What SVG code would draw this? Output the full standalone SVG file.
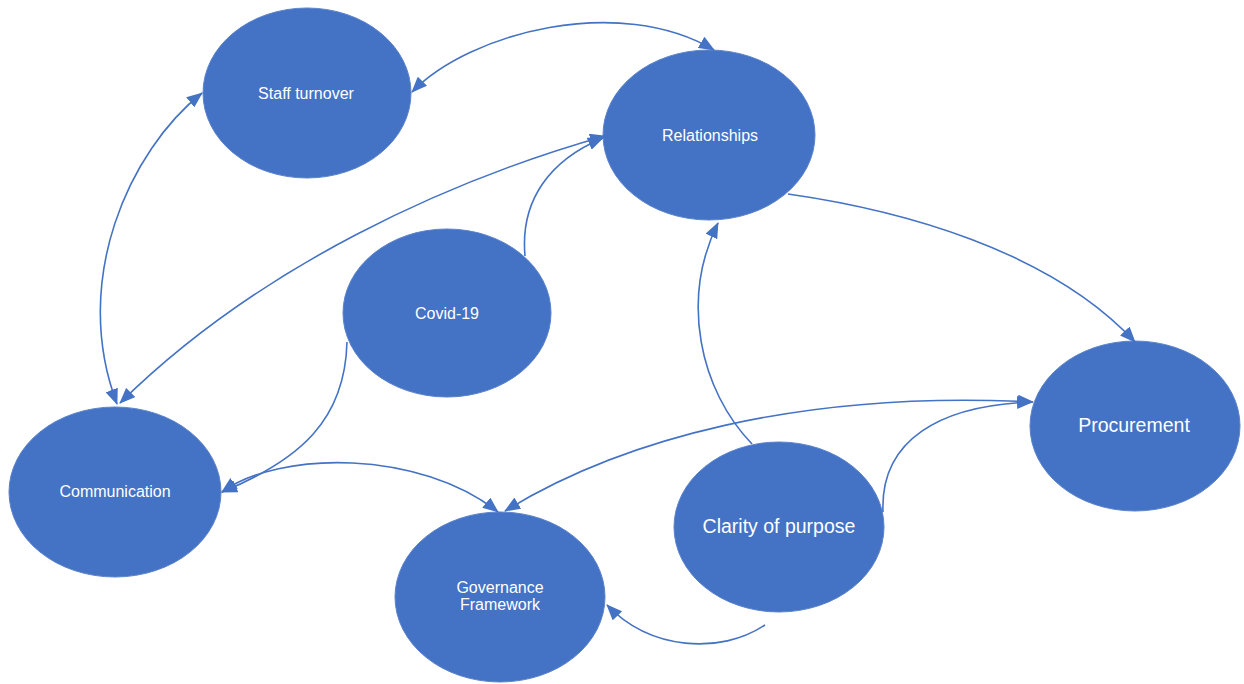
<svg xmlns="http://www.w3.org/2000/svg" width="1244" height="684" viewBox="0 0 1244 684">
<style>
.node ellipse{fill:#4472C4;stroke:#5a82cb;stroke-width:1}
.node text{fill:#ffffff;font-family:"Liberation Sans",Arial,sans-serif;font-size:16px;text-anchor:middle}
.node text.big{font-size:19.5px}
.conn path{fill:none;stroke:#4472C4;stroke-width:1.6}
</style>
<defs>
<marker id="ah" viewBox="0 0 16 13" refX="15" refY="6.5" markerWidth="16" markerHeight="13" markerUnits="userSpaceOnUse" orient="auto-start-reverse">
<path d="M0,0 L16,6.5 L0,13 Z" fill="#4472C4"/>
</marker>
</defs>
<rect width="1244" height="684" fill="#ffffff"/>
<g id="staff-turnover" class="node"><ellipse cx="307" cy="93" rx="104" ry="85"/><text x="306" y="99">Staff turnover</text></g>
<g id="relationships" class="node"><ellipse cx="709" cy="135" rx="106" ry="85"/><text x="710" y="141">Relationships</text></g>
<g id="covid-19" class="node"><ellipse cx="447" cy="313" rx="104" ry="84"/><text x="447" y="319">Covid-19</text></g>
<g id="communication" class="node"><ellipse cx="115" cy="492" rx="106" ry="85"/><text x="115" y="497">Communication</text></g>
<g id="governance-framework" class="node"><ellipse cx="500" cy="597" rx="105" ry="85"/><text x="500" y="593">Governance</text><text x="500" y="610">Framework</text></g>
<g id="clarity-of-purpose" class="node"><ellipse cx="779" cy="527" rx="105" ry="85"/><text class="big" x="779" y="533">Clarity of purpose</text></g>
<g id="procurement" class="node"><ellipse cx="1135" cy="426" rx="105" ry="85"/><text class="big" x="1134" y="432">Procurement</text></g>
<g id="connectors" class="conn">
<path d="M412,92 C470,32 620,-6 714,50" marker-start="url(#ah)" marker-end="url(#ah)"/>
<path d="M202,93 C130,150 70,280 117,404" marker-start="url(#ah)" marker-end="url(#ah)"/>
<path d="M605,136 C450,180 260,265 120,403" marker-start="url(#ah)" marker-end="url(#ah)"/>
<path d="M525,256 C520,200 550,160 603,138" marker-end="url(#ah)"/>
<path d="M347,342 C345,420 300,460 222,492" marker-end="url(#ah)"/>
<path d="M222,492 C280,450 420,450 498,512" marker-start="url(#ah)" marker-end="url(#ah)"/>
<path d="M505,511 C620,440 800,390 1033,402" marker-start="url(#ah)" marker-end="url(#ah)"/>
<path d="M883,512 C880,440 940,405 1032,402" marker-end="url(#ah)"/>
<path d="M752,444 C700,390 680,300 718,223" marker-end="url(#ah)"/>
<path d="M788,194 C900,210 1050,250 1135,342" marker-end="url(#ah)"/>
<path d="M765,625 C720,655 650,650 607,605" marker-end="url(#ah)"/>
</g>
</svg>
